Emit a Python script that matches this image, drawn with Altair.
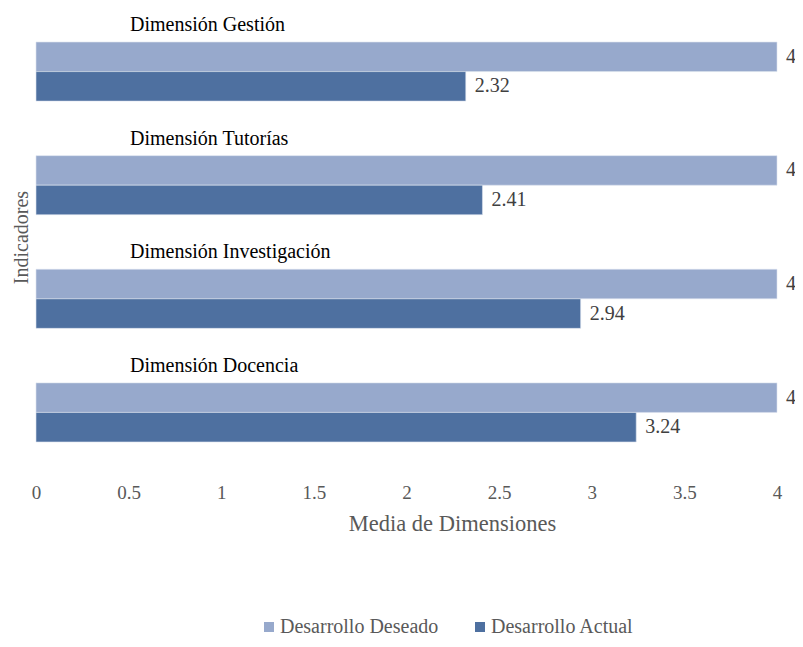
import altair as alt
import pandas as pd

dimensions = ["Dimensión Gestión", "Dimensión Tutorías", "Dimensión Investigación", "Dimensión Docencia"]
series = ["Desarrollo Deseado", "Desarrollo Actual"]
deseado = [4, 4, 4, 4]
actual = [2.32, 2.41, 2.94, 3.24]
colors = ["#97A9CC", "#4E70A0"]
x_ticks = [0, 0.5, 1, 1.5, 2, 2.5, 3, 3.5, 4]

rows = []
for d, v1, v2 in zip(dimensions, deseado, actual):
    rows.append({"dim": d, "serie": series[0], "valor": v1, "label": f"{v1:g}"})
    rows.append({"dim": d, "serie": series[1], "valor": v2, "label": f"{v2:g}"})
df = pd.DataFrame(rows)
dims_df = pd.DataFrame({"dim": dimensions})

FONT = "Liberation Serif"

y_enc = alt.Y("dim:N", sort=dimensions,
              scale=alt.Scale(paddingInner=0.48, paddingOuter=0.238),
              axis=alt.Axis(labels=False, ticks=False, domain=False, grid=False,
                            title="Indicadores", titleFont=FONT, titleFontSize=20,
                            titleFontWeight="normal", titleColor="#595959",
                            titleX=-15, titleY=222, titleBaseline="middle",
                            titleAngle=-90, titleAlign="center"))
yoff = alt.YOffset("serie:N", sort=series, scale=alt.Scale(paddingInner=0, paddingOuter=0))
x_enc = alt.X("valor:Q", scale=alt.Scale(domain=[0, 4], nice=False),
              axis=alt.Axis(values=x_ticks, format="~g", labelFont=FONT, labelFontSize=19,
                            labelColor="#595959", domain=False, ticks=False, tickSize=0,
                            grid=False, labelPadding=14, labelFlush=False,
                            title="Media de Dimensiones", titleFont=FONT,
                            titleFontSize=22.5, titleFontWeight="normal",
                            titleColor="#595959", titleX=416, titleY=43,
                            titleBaseline="top"))

bars = alt.Chart(df).mark_bar(stroke="#DCE3EF", strokeWidth=0.6).encode(
    x=x_enc,
    y=y_enc,
    yOffset=yoff,
    color=alt.Color("serie:N", sort=series,
                    scale=alt.Scale(domain=series, range=colors),
                    legend=alt.Legend(title=None, orient="none", direction="horizontal",
                                      legendX=223, legendY=602, padding=0,
                                      symbolType="square",
                                      symbolSize=100, symbolStrokeWidth=0,
                                      labelFont=FONT, labelFontSize=20,
                                      labelColor="#595959", columnPadding=31,
                                      labelOffset=1)),
)

values = alt.Chart(df).mark_text(align="left", baseline="middle", dx=9,
                                 font=FONT, fontSize=20, color="#404040").encode(
    x="valor:Q",
    y=alt.Y("dim:N", sort=dimensions),
    yOffset=yoff,
    text="label:N",
)

dim_labels = alt.Chart(dims_df).mark_text(align="left", baseline="middle", dy=-46.5,
                                          font=FONT, fontSize=20, color="#000000").encode(
    x=alt.value(94),
    y=alt.Y("dim:N", sort=dimensions),
    text="dim:N",
)

chart = alt.layer(bars, values, dim_labels).properties(
    width=741, height=454,
    background="white",
    autosize=alt.AutoSizeParams(type="none"),
    padding={"left": 28, "top": 7, "right": 18, "bottom": 170},
).configure_view(stroke=None, strokeWidth=0)

chart.save("out.html", embed_options={"renderer": "svg", "actions": False})
